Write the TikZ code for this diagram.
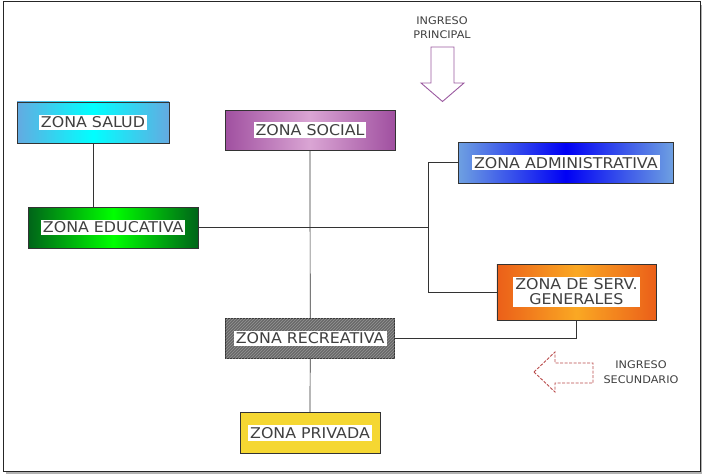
\documentclass[tikz,border=0pt]{standalone}
\usepackage{fontspec}
\setmainfont{DejaVu Sans}[FakeStretch=1.07]
\usetikzlibrary{patterns}

\definecolor{saludA}{RGB}{100,170,225}
\definecolor{saludB}{RGB}{0,255,255}
\definecolor{socialA}{RGB}{160,80,160}
\definecolor{socialB}{RGB}{218,165,212}
\definecolor{admA}{RGB}{110,160,225}
\definecolor{admB}{RGB}{0,0,245}
\definecolor{educA}{RGB}{0,100,25}
\definecolor{educB}{RGB}{0,255,0}
\definecolor{servA}{RGB}{235,95,25}
\definecolor{servB}{RGB}{250,168,35}
\definecolor{recreA}{RGB}{105,105,105}
\definecolor{recreB}{RGB}{150,150,150}
\definecolor{privA}{RGB}{245,215,50}
\definecolor{ingP}{RGB}{155,90,160}
\definecolor{ingS}{RGB}{185,75,75}

\tikzset{
  zona/.style={draw=black!80, line width=0.8pt, minimum height=41pt, inner sep=0pt},
  etiqueta/.style={fill=white, text=black!75, inner sep=2pt, align=center,
    font=\fontsize{14.8}{15}\selectfont},
  linea/.style={black!80, line width=0.7pt},
  ingreso/.style={text=black!75, align=center, font=\fontsize{10.5}{14}\selectfont},
}

\begin{document}
\begin{tikzpicture}[x=1pt, y=-1pt]
        \useasboundingbox (0,0) rectangle (702,474);
        %marco con sombra
        \fill[gray!60] (6,471) rectangle (702,474);
        \fill[gray!60] (700,5) rectangle (702,474);
        \draw[black!85, line width=1pt] (3.5,1.5) rectangle (700.5,471);

        %zonas
        \node[zona, minimum width=152pt, left color=saludA, right color=saludA, middle color=saludB] (salud) at (93,122.4) {};
        \node[zona, minimum width=170pt, minimum height=40pt, left color=socialA, right color=socialA, middle color=socialB] (social) at (310,130) {};
        \node[zona, minimum width=215pt, left color=admA, right color=admA, middle color=admB] (adm) at (565.8,162.8) {};
        \node[zona, minimum width=170pt, left color=educA, right color=educA, middle color=educB] (educ) at (113.2,227.5) {};
        \node[zona, minimum width=159pt, minimum height=56pt, left color=servA, right color=servA, middle color=servB] (serv) at (576.4,292) {};
        \node[zona, minimum width=169pt, minimum height=40pt, fill=recreA, postaction={pattern=north east lines, pattern color=recreB}] (recre) at (310.2,338.2) {};
        \node[zona, minimum width=140pt, fill=privA] (priv) at (310,433) {};

        \node[etiqueta] (salud-t) at (salud) {ZONA SALUD};
        \node[etiqueta] (social-t) at (social) {ZONA SOCIAL};
        \node[etiqueta] (adm-t) at (adm) {ZONA ADMINISTRATIVA};
        \node[etiqueta] (educ-t) at (educ) {ZONA EDUCATIVA};
        \node[etiqueta] (serv-t) at (serv) {ZONA DE SERV.\\GENERALES};
        \node[etiqueta] (recre-t) at (recre) {ZONA RECREATIVA};
        \node[etiqueta] (priv-t) at (priv) {ZONA PRIVADA};

        %conexiones
        \coordinate (nudo) at (428.4,227.5);
        \draw[linea] (salud.south) -- (salud.south |- educ.north);
        \draw[linea] (educ.east) -- (nudo);
        \draw[linea] (adm.west) -| (nudo) |- (serv.west);
        \draw[linea] (social.south) -- (recre.north);
        \draw[linea] (recre.east) -| (serv.south);
        \draw[linea] (recre.south) -- (priv.north);

        %ingresos
        \node[ingreso] (ing-p) at (442,28) {INGRESO\\PRINCIPAL};
        \draw[ingP, line width=0.9pt, fill=white] (431,47)--(454,47)--(454,83)--(464,83)--(442.5,101.5)--(421,83)--(431,83)--cycle;
        \node[ingreso, font=\fontsize{10.5}{15}\selectfont] (ing-s) at (641,372.5) {INGRESO\\SECUNDARIO};
        \draw[ingS, line width=0.9pt, dash pattern=on 3pt off 1.5pt] (534,372)--(555,352)--(555,363)--(593,363)--(593,383)--(555,383)--(555,392)--cycle;
    \end{tikzpicture}
\end{document}
